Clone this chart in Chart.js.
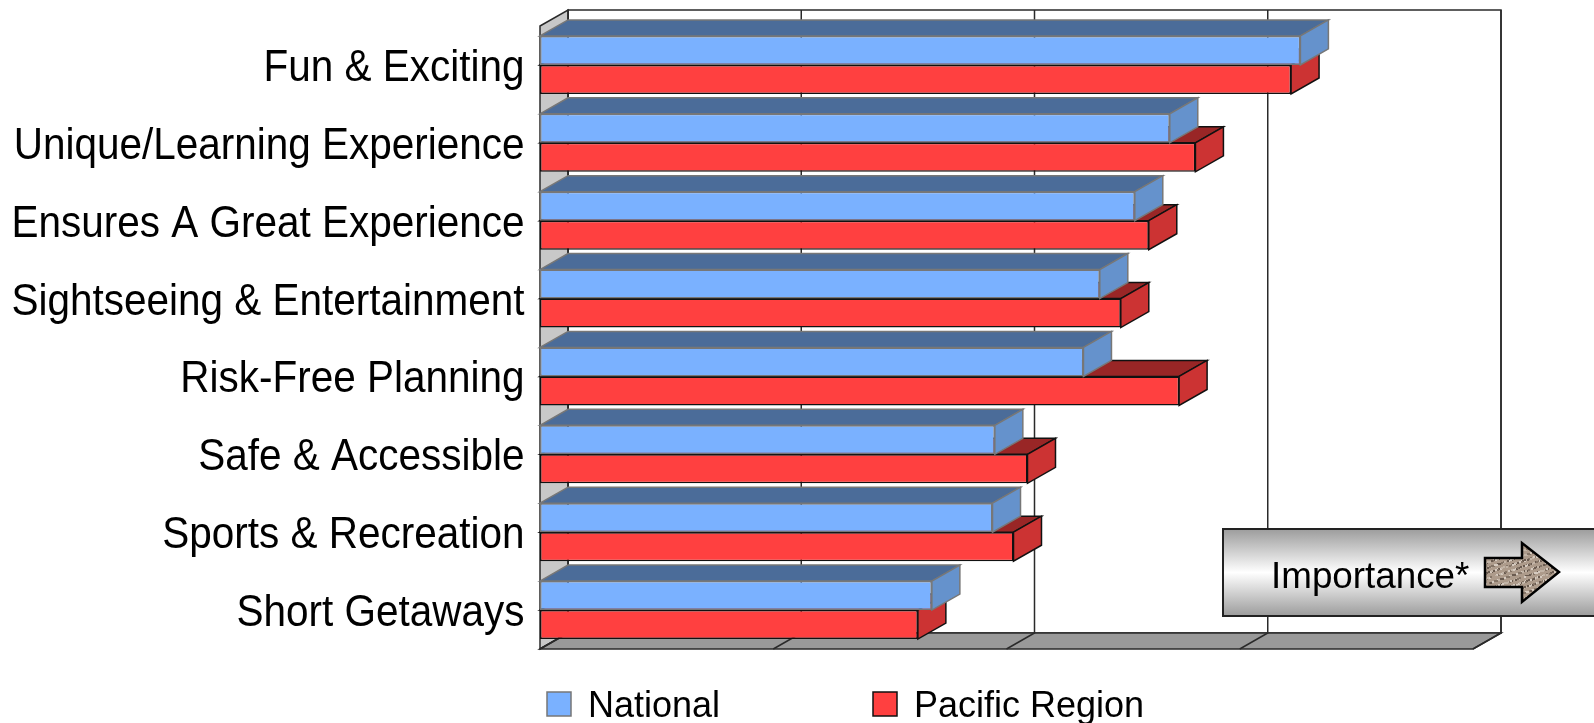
<!DOCTYPE html>
<html>
<head>
<meta charset="utf-8">
<title>Importance</title>
<script src="https://cdn.jsdelivr.net/npm/chart.js@4"></script>
<style>
    html, body { margin: 0; padding: 0; background: #fff; overflow: hidden; }
    canvas { display: block; }
</style>
</head>
<body>
<canvas id="importanceChart" width="1594" height="723"></canvas>
<script>
const categories = [
    'Fun & Exciting',
    'Unique/Learning Experience',
    'Ensures A Great Experience',
    'Sightseeing & Entertainment',
    'Risk-Free Planning',
    'Safe & Accessible',
    'Sports & Recreation',
    'Short Getaways'
];
const nationalValues = [3.26, 2.70, 2.55, 2.40, 2.33, 1.95, 1.94, 1.68];
const pacificValues = [3.22, 2.81, 2.61, 2.49, 2.74, 2.09, 2.03, 1.62];
const axisTicks = [0, 1, 2, 3, 4];
const calloutText = 'Importance*';

const DEPTH_X = 28;
const DEPTH_Y = 16;
const FONT = '"Liberation Sans", Arial, sans-serif';

const faceColors = [
    { top: '#4b6c99', side: '#6592cc', line: '#777777' }, // National
    { top: '#992626', side: '#cc3333', line: '#111111' }  // Pacific Region
];

function poly(ctx, pts, fill, stroke, width) {
    ctx.beginPath();
    pts.forEach((p, i) => i ? ctx.lineTo(p[0], p[1]) : ctx.moveTo(p[0], p[1]));
    ctx.closePath();
    if (fill) { ctx.fillStyle = fill; ctx.fill(); }
    if (stroke) { ctx.strokeStyle = stroke; ctx.lineWidth = width || 1; ctx.stroke(); }
}

// Walls and floor of the 3D box, placed from the value axis
const boxPlugin = {
    id: 'box',
    beforeDatasetsDraw(chart) {
        const ctx = chart.ctx;
        const x = chart.scales.x;
        const { left, right, top, bottom } = chart.chartArea;
        const line = '#2a2a2a';

        ctx.save();
        poly(ctx, [[left + DEPTH_X, top - DEPTH_Y], [right + DEPTH_X, top - DEPTH_Y],
            [right + DEPTH_X, bottom - DEPTH_Y], [left + DEPTH_X, bottom - DEPTH_Y]], '#ffffff', line, 1.5);
        poly(ctx, [[left, top], [left + DEPTH_X, top - DEPTH_Y],
            [left + DEPTH_X, bottom - DEPTH_Y], [left, bottom]], '#c8c8c8', line, 1.5);
        poly(ctx, [[left, bottom], [left + DEPTH_X, bottom - DEPTH_Y],
            [right + DEPTH_X, bottom - DEPTH_Y], [right, bottom]], '#999999', line, 1.5);

        axisTicks.forEach(t => {
            const px = x.getPixelForValue(t);
            ctx.strokeStyle = line;
            ctx.lineWidth = 1.5;
            ctx.beginPath();
            ctx.moveTo(px, bottom);
            ctx.lineTo(px + DEPTH_X, bottom - DEPTH_Y);
            ctx.lineTo(px + DEPTH_X, top - DEPTH_Y);
            ctx.stroke();
        });
        ctx.restore();
    },
    // top and side faces go under the flat bar of the same dataset
    beforeDatasetDraw(chart, args) {
        const ctx = chart.ctx;
        const colors = faceColors[args.index];
        ctx.save();
        chart.getDatasetMeta(args.index).data.forEach(bar => {
            const y0 = bar.y - bar.height / 2;
            const y1 = bar.y + bar.height / 2;
            poly(ctx, [[bar.base, y0], [bar.base + DEPTH_X, y0 - DEPTH_Y],
                [bar.x + DEPTH_X, y0 - DEPTH_Y], [bar.x, y0]], colors.top, colors.line, 1.5);
            poly(ctx, [[bar.x, y0], [bar.x + DEPTH_X, y0 - DEPTH_Y],
                [bar.x + DEPTH_X, y1 - DEPTH_Y], [bar.x, y1]], colors.side, colors.line, 1.5);
        });
        ctx.restore();
    }
};

// Narrowed category labels, legend and the callout box
const textPlugin = {
    id: 'texts',
    afterDraw(chart) {
        const ctx = chart.ctx;
        const y = chart.scales.y;

        ctx.save();
        ctx.fillStyle = '#000000';
        ctx.textBaseline = 'alphabetic';
        ctx.textAlign = 'right';
        ctx.font = '44px ' + FONT;
        categories.forEach((label, i) => {
            ctx.save();
            ctx.translate(524.5, y.getPixelForTick(i) + 16);
            ctx.scale(0.92, 1);
            ctx.fillText(label, 0, 0);
            ctx.restore();
        });

        // legend
        ctx.textAlign = 'left';
        ctx.font = '36px ' + FONT;
        const legendX = [547, 873];
        chart.data.datasets.forEach((ds, i) => {
            ctx.fillStyle = ds.backgroundColor;
            ctx.strokeStyle = faceColors[i].line;
            ctx.lineWidth = 1.5;
            ctx.fillRect(legendX[i], 692, 24, 24);
            ctx.strokeRect(legendX[i], 692, 24, 24);
            ctx.fillStyle = '#000000';
            ctx.fillText(ds.label, legendX[i] + 41, 717);
        });

        // callout, runs off the right edge
        const grad = ctx.createLinearGradient(0, 529, 0, 616);
        grad.addColorStop(0, '#9c9c9c');
        grad.addColorStop(0.5, '#ffffff');
        grad.addColorStop(1, '#9c9c9c');
        ctx.fillStyle = grad;
        ctx.fillRect(1223, 529, 380, 87);
        ctx.strokeStyle = '#222222';
        ctx.lineWidth = 2;
        ctx.strokeRect(1223, 529, 380, 87);
        ctx.fillStyle = '#000000';
        ctx.font = '36.8px ' + FONT;
        ctx.fillText(calloutText, 1271, 588);

        const arrow = [[1485, 558], [1522, 558], [1522, 543], [1559, 572],
            [1522, 602], [1522, 587], [1485, 587]];
        poly(ctx, arrow, speckle(ctx), '#000000', 2.5);
        ctx.restore();
    }
};

// Stone-like fill for the arrow
function speckle(ctx) {
    const tile = document.createElement('canvas');
    tile.width = tile.height = 64;
    const t = tile.getContext('2d');
    t.fillStyle = '#ad9b8b';
    t.fillRect(0, 0, 64, 64);
    const shades = ['#6a5b50', '#d5cabf', '#857567', '#c2b4a6'];
    let seed = 4242;
    const next = () => (seed = (seed * 25173 + 13849) % 65536) >> 4;
    for (let i = 0; i < 700; i++) {
        const px = next() % 64;
        const py = next() % 64;
        t.fillStyle = shades[next() % shades.length];
        t.fillRect(px, py, 2, 2);
    }
    return ctx.createPattern(tile, 'repeat');
}

new Chart(document.getElementById('importanceChart'), {
    type: 'bar',
    data: {
        labels: categories,
        datasets: [
            {
                label: 'National',
                data: nationalValues,
                backgroundColor: '#7ab1ff',
                borderColor: '#777777',
                borderWidth: 1.5,
                borderSkipped: false
            },
            {
                label: 'Pacific Region',
                data: pacificValues,
                backgroundColor: '#ff4040',
                borderColor: '#111111',
                borderWidth: 1.5,
                borderSkipped: false
            }
        ]
    },
    options: {
        indexAxis: 'y',
        responsive: false,
        animation: false,
        devicePixelRatio: 1,
        categoryPercentage: 0.745,
        barPercentage: 1,
        layout: { padding: { left: 540, right: 121, top: 26, bottom: 74 } },
        scales: {
            x: { display: false, min: 0, max: 4 },
            y: { display: false }
        },
        plugins: {
            legend: { display: false },
            tooltip: { enabled: false }
        }
    },
    plugins: [boxPlugin, textPlugin]
});
</script>
</body>
</html>
